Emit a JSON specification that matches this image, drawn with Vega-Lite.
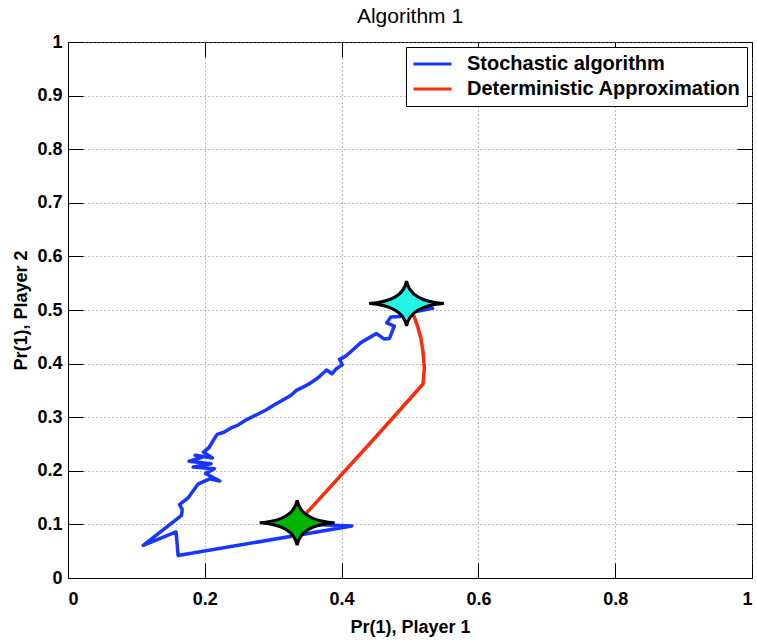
{
  "$schema": "https://vega.github.io/schema/vega-lite/v6.json",
  "autosize": "none",
  "width": 684,
  "height": 536,
  "padding": {"left": 68, "top": 42, "right": 5, "bottom": 62},
  "background": "white",
  "title": {"text": "Algorithm 1", "fontSize": 21, "font": "Liberation Sans", "fontWeight": "normal", "color": "black", "offset": 6},
  "config": {
    "view": {"stroke": "black", "strokeWidth": 1},
    "axis": {
      "labelFont": "Liberation Sans", "labelFontSize": 18, "labelFontWeight": "bold", "labelColor": "black",
      "titleFont": "Liberation Sans", "titleFontSize": 18, "titleFontWeight": "bold", "titleColor": "black",
      "domainColor": "black", "tickColor": "black", "gridColor": "#777777", "gridDash": [1, 3], "gridWidth": 1
    }
  },
  "datasets": {
    "paths": [
      {"series": "Stochastic algorithm", "i": 0, "x": 0.335, "y": 0.101},
      {"series": "Stochastic algorithm", "i": 1, "x": 0.415, "y": 0.097},
      {"series": "Stochastic algorithm", "i": 2, "x": 0.161, "y": 0.042},
      {"series": "Stochastic algorithm", "i": 3, "x": 0.158, "y": 0.086},
      {"series": "Stochastic algorithm", "i": 4, "x": 0.110, "y": 0.061},
      {"series": "Stochastic algorithm", "i": 5, "x": 0.166, "y": 0.117},
      {"series": "Stochastic algorithm", "i": 6, "x": 0.167, "y": 0.128},
      {"series": "Stochastic algorithm", "i": 7, "x": 0.163, "y": 0.137},
      {"series": "Stochastic algorithm", "i": 8, "x": 0.176, "y": 0.150},
      {"series": "Stochastic algorithm", "i": 9, "x": 0.186, "y": 0.168},
      {"series": "Stochastic algorithm", "i": 10, "x": 0.190, "y": 0.175},
      {"series": "Stochastic algorithm", "i": 11, "x": 0.207, "y": 0.185},
      {"series": "Stochastic algorithm", "i": 12, "x": 0.222, "y": 0.181},
      {"series": "Stochastic algorithm", "i": 13, "x": 0.201, "y": 0.195},
      {"series": "Stochastic algorithm", "i": 14, "x": 0.214, "y": 0.204},
      {"series": "Stochastic algorithm", "i": 15, "x": 0.183, "y": 0.207},
      {"series": "Stochastic algorithm", "i": 16, "x": 0.209, "y": 0.213},
      {"series": "Stochastic algorithm", "i": 17, "x": 0.177, "y": 0.218},
      {"series": "Stochastic algorithm", "i": 18, "x": 0.196, "y": 0.225},
      {"series": "Stochastic algorithm", "i": 19, "x": 0.186, "y": 0.229},
      {"series": "Stochastic algorithm", "i": 20, "x": 0.211, "y": 0.224},
      {"series": "Stochastic algorithm", "i": 21, "x": 0.198, "y": 0.235},
      {"series": "Stochastic algorithm", "i": 22, "x": 0.206, "y": 0.243},
      {"series": "Stochastic algorithm", "i": 23, "x": 0.212, "y": 0.256},
      {"series": "Stochastic algorithm", "i": 24, "x": 0.218, "y": 0.268},
      {"series": "Stochastic algorithm", "i": 25, "x": 0.228, "y": 0.272},
      {"series": "Stochastic algorithm", "i": 26, "x": 0.237, "y": 0.279},
      {"series": "Stochastic algorithm", "i": 27, "x": 0.248, "y": 0.285},
      {"series": "Stochastic algorithm", "i": 28, "x": 0.262, "y": 0.296},
      {"series": "Stochastic algorithm", "i": 29, "x": 0.278, "y": 0.306},
      {"series": "Stochastic algorithm", "i": 30, "x": 0.290, "y": 0.314},
      {"series": "Stochastic algorithm", "i": 31, "x": 0.300, "y": 0.322},
      {"series": "Stochastic algorithm", "i": 32, "x": 0.314, "y": 0.332},
      {"series": "Stochastic algorithm", "i": 33, "x": 0.325, "y": 0.340},
      {"series": "Stochastic algorithm", "i": 34, "x": 0.334, "y": 0.350},
      {"series": "Stochastic algorithm", "i": 35, "x": 0.345, "y": 0.357},
      {"series": "Stochastic algorithm", "i": 36, "x": 0.356, "y": 0.365},
      {"series": "Stochastic algorithm", "i": 37, "x": 0.366, "y": 0.374},
      {"series": "Stochastic algorithm", "i": 38, "x": 0.378, "y": 0.388},
      {"series": "Stochastic algorithm", "i": 39, "x": 0.386, "y": 0.381},
      {"series": "Stochastic algorithm", "i": 40, "x": 0.392, "y": 0.390},
      {"series": "Stochastic algorithm", "i": 41, "x": 0.401, "y": 0.398},
      {"series": "Stochastic algorithm", "i": 42, "x": 0.397, "y": 0.408},
      {"series": "Stochastic algorithm", "i": 43, "x": 0.405, "y": 0.413},
      {"series": "Stochastic algorithm", "i": 44, "x": 0.415, "y": 0.424},
      {"series": "Stochastic algorithm", "i": 45, "x": 0.429, "y": 0.440},
      {"series": "Stochastic algorithm", "i": 46, "x": 0.440, "y": 0.448},
      {"series": "Stochastic algorithm", "i": 47, "x": 0.451, "y": 0.456},
      {"series": "Stochastic algorithm", "i": 48, "x": 0.462, "y": 0.446},
      {"series": "Stochastic algorithm", "i": 49, "x": 0.470, "y": 0.447},
      {"series": "Stochastic algorithm", "i": 50, "x": 0.474, "y": 0.460},
      {"series": "Stochastic algorithm", "i": 51, "x": 0.477, "y": 0.470},
      {"series": "Stochastic algorithm", "i": 52, "x": 0.466, "y": 0.476},
      {"series": "Stochastic algorithm", "i": 53, "x": 0.472, "y": 0.487},
      {"series": "Stochastic algorithm", "i": 54, "x": 0.486, "y": 0.488},
      {"series": "Stochastic algorithm", "i": 55, "x": 0.495, "y": 0.495},
      {"series": "Stochastic algorithm", "i": 56, "x": 0.505, "y": 0.496},
      {"series": "Stochastic algorithm", "i": 57, "x": 0.520, "y": 0.500},
      {"series": "Stochastic algorithm", "i": 58, "x": 0.533, "y": 0.503},
      {"series": "Stochastic algorithm", "i": 59, "x": 0.515, "y": 0.506},
      {"series": "Stochastic algorithm", "i": 60, "x": 0.500, "y": 0.505},
      {"series": "Stochastic algorithm", "i": 61, "x": 0.492, "y": 0.510},
      {"series": "Deterministic Approximation", "i": 0, "x": 0.336, "y": 0.104},
      {"series": "Deterministic Approximation", "i": 1, "x": 0.360, "y": 0.137},
      {"series": "Deterministic Approximation", "i": 2, "x": 0.400, "y": 0.193},
      {"series": "Deterministic Approximation", "i": 3, "x": 0.440, "y": 0.249},
      {"series": "Deterministic Approximation", "i": 4, "x": 0.480, "y": 0.306},
      {"series": "Deterministic Approximation", "i": 5, "x": 0.519, "y": 0.362},
      {"series": "Deterministic Approximation", "i": 6, "x": 0.521, "y": 0.392},
      {"series": "Deterministic Approximation", "i": 7, "x": 0.519, "y": 0.422},
      {"series": "Deterministic Approximation", "i": 8, "x": 0.516, "y": 0.447},
      {"series": "Deterministic Approximation", "i": 9, "x": 0.511, "y": 0.470},
      {"series": "Deterministic Approximation", "i": 10, "x": 0.506, "y": 0.488},
      {"series": "Deterministic Approximation", "i": 11, "x": 0.501, "y": 0.500},
      {"series": "Deterministic Approximation", "i": 12, "x": 0.497, "y": 0.508}
    ],
    "stars": [
      {"kind": "start", "x": 0.335, "y": 0.103},
      {"kind": "end", "x": 0.495, "y": 0.512}
    ]
  },
  "layer": [
    {
      "data": {"name": "paths"},
      "mark": {"type": "line", "strokeWidth": 3.5, "strokeJoin": "round", "strokeCap": "round"},
      "encoding": {
        "x": {"field": "x", "type": "quantitative", "scale": {"domain": [0, 1], "nice": false, "zero": false},
          "axis": {"orient": "bottom", "values": [0, 0.2, 0.4, 0.6, 0.8, 1], "format": ".1~f", "title": "Pr(1), Player 1",
            "tickSize": -15, "labelPadding": 27, "titlePadding": 10, "grid": true}},
        "y": {"field": "y", "type": "quantitative", "scale": {"domain": [0, 1], "nice": false, "zero": false},
          "axis": {"orient": "left", "values": [0, 0.1, 0.2, 0.3, 0.4, 0.5, 0.6, 0.7, 0.8, 0.9, 1], "format": ".1~f", "title": "Pr(1), Player 2",
            "tickSize": -15, "labelPadding": 21, "titlePadding": 6, "grid": true}},
        "color": {"field": "series", "type": "nominal",
          "scale": {"domain": ["Stochastic algorithm", "Deterministic Approximation"], "range": ["#1736ff", "#ff2a0a"]},
          "legend": {"title": null, "orient": "top-right", "offset": 5, "symbolType": "stroke", "symbolSize": 1444, "symbolStrokeWidth": 3,
            "labelFont": "Liberation Sans", "labelFontSize": 20, "labelFontWeight": "bold", "labelColor": "black", "labelLimit": 400,
            "strokeColor": "black", "fillColor": "white", "padding": 6, "clipHeight": 22, "rowPadding": 3, "labelOffset": 14}},
        "order": {"field": "i", "type": "quantitative"}
      }
    },
    {
      "data": {"name": "stars"},
      "mark": {"type": "point", "shape": "M-1,0 Q-0.1,-0.06 0,-0.6 Q0.1,-0.06 1,0 Q0.1,0.06 0,0.6 Q-0.1,0.06 -1,0 Z", "size": 5600, "filled": true, "stroke": "black", "strokeWidth": 3, "opacity": 1},
      "encoding": {
        "x": {"field": "x", "type": "quantitative", "axis": {"orient": "top", "values": [0, 0.2, 0.4, 0.6, 0.8, 1], "labels": false, "title": null, "tickSize": -15, "domain": false, "grid": false}},
        "y": {"field": "y", "type": "quantitative", "axis": {"orient": "right", "values": [0, 0.1, 0.2, 0.3, 0.4, 0.5, 0.6, 0.7, 0.8, 0.9, 1], "labels": false, "title": null, "tickSize": -15, "domain": false, "grid": false}},
        "fill": {"field": "kind", "type": "nominal", "scale": {"domain": ["start", "end"], "range": ["#00b400", "#22f5e6"]}, "legend": null}
      }
    }
  ]
}
